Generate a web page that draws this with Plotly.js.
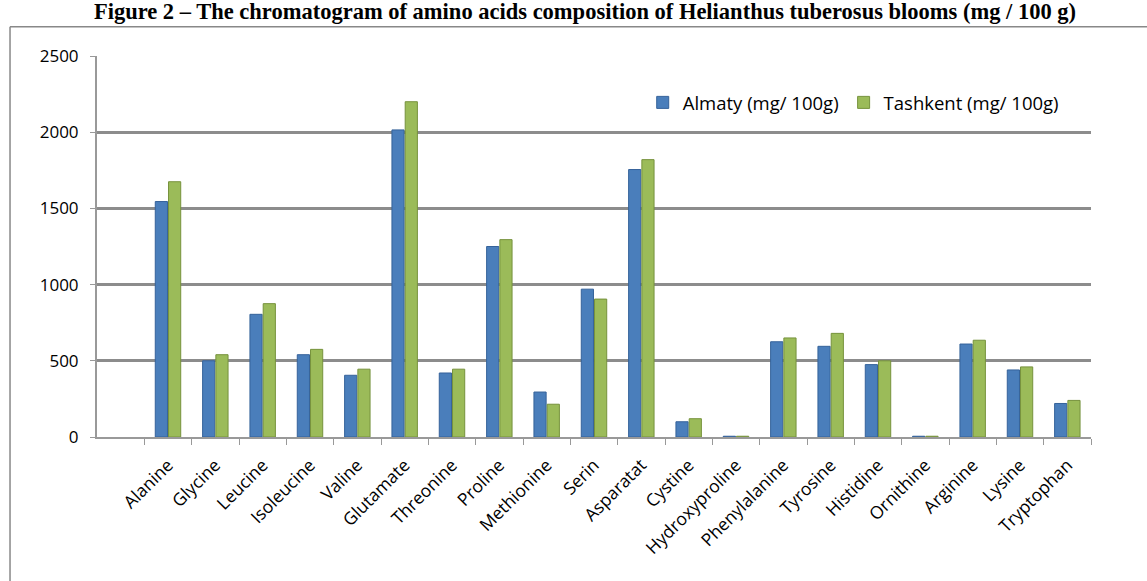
<!DOCTYPE html>
<html>
<head>
<meta charset="utf-8">
<script src="https://cdn.plot.ly/plotly-3.0.1.min.js"></script>
<style>
html,body{margin:0;padding:0;background:#fff;overflow:hidden;}
#chart{width:1147px;height:581px;}
</style>
</head>
<body>
<div id="chart"></div>
<script>
const categories = ["Alanine","Glycine","Leucine","Isoleucine","Valine","Glutamate","Threonine","Proline","Methionine","Serin","Asparatat","Cystine","Hydroxyproline","Phenylalanine","Tyrosine","Histidine","Ornithine","Arginine","Lysine","Tryptophan"];
const almaty   = [1545, 500, 805, 540, 405, 2015, 420, 1250, 295, 970, 1755, 100, 5, 625, 595, 475, 5, 610, 440, 220];
const tashkent = [1675, 540, 875, 575, 445, 2200, 445, 1295, 215, 905, 1820, 120, 5, 650, 680, 500, 5, 635, 460, 240];
const yTicks = [0, 500, 1000, 1500, 2000, 2500];
const seriesNames = ["Almaty (mg/ 100g)", "Tashkent (mg/ 100g)"];

const traces = [
  {type:'bar', name:seriesNames[0], x:categories, y:almaty,
   marker:{color:'#4a7ebb', line:{color:'#35629a', width:1}}},
  {type:'bar', name:seriesNames[1], x:categories, y:tashkent,
   marker:{color:'#9bbb59', line:{color:'#76923c', width:1}}}
];

const layout = {
  width:1147, height:581,
  margin:{l:97, r:56, t:56, b:144},
  paper_bgcolor:'#ffffff', plot_bgcolor:'#ffffff',
  barmode:'group', bargap:0.44, bargroupgap:0.08,
  showlegend:true,
  title:{text:'<b>Figure 2 – The chromatogram of amino acids composition of Helianthus tuberosus blooms (mg / 100 g)</b>',
         font:{family:'Liberation Serif', size:22.5, color:'#000'},
         x:0.51, xanchor:'center', y:0.994, yanchor:'top', yref:'container', pad:{t:0,b:0}},
  legend:{orientation:'h', x:0.549, xanchor:'left', y:0.877, yanchor:'middle',
          font:{family:'Open Sans', size:18.5, color:'#000'}, bgcolor:'rgba(0,0,0,0)',
          itemwidth:30, traceorder:'normal', tracegroupgap:0},
  xaxis:{type:'category', range:[-1.5, 19.5], tickangle:-45,
         tickfont:{family:'Open Sans', size:17.5, color:'#000'},
         ticklabelstandoff:9,
         showline:true, linecolor:'#999', linewidth:2,
         ticks:'outside', tickson:'boundaries', ticklen:6, tickcolor:'#999', tickwidth:1,
         showgrid:false, zeroline:false, fixedrange:true},
  yaxis:{range:[0,2500], tickvals:yTicks, ticktext:yTicks.map(String),
         tickfont:{family:'Open Sans', size:17, color:'#000'},
         ticklabelstandoff:8,
         showline:true, linecolor:'#999', linewidth:2,
         ticks:'outside', ticklen:5, tickcolor:'#999',
         showgrid:true, gridcolor:'#8c8c8c', gridwidth:3,
         zeroline:false, fixedrange:true},
  shapes:[
    {type:'line', xref:'paper', yref:'paper', x0:-0.0875, x1:1.07, y0:1.077, y1:1.077,
     line:{color:'#888', width:1.5}},
    {type:'line', xref:'paper', yref:'paper', x0:-0.0875, x1:-0.0875, y0:1.077, y1:-0.45,
     line:{color:'#888', width:1.5}}
  ]
};
Plotly.newPlot('chart', traces, layout, {displayModeBar:false, staticPlot:true});
</script>
</body>
</html>
